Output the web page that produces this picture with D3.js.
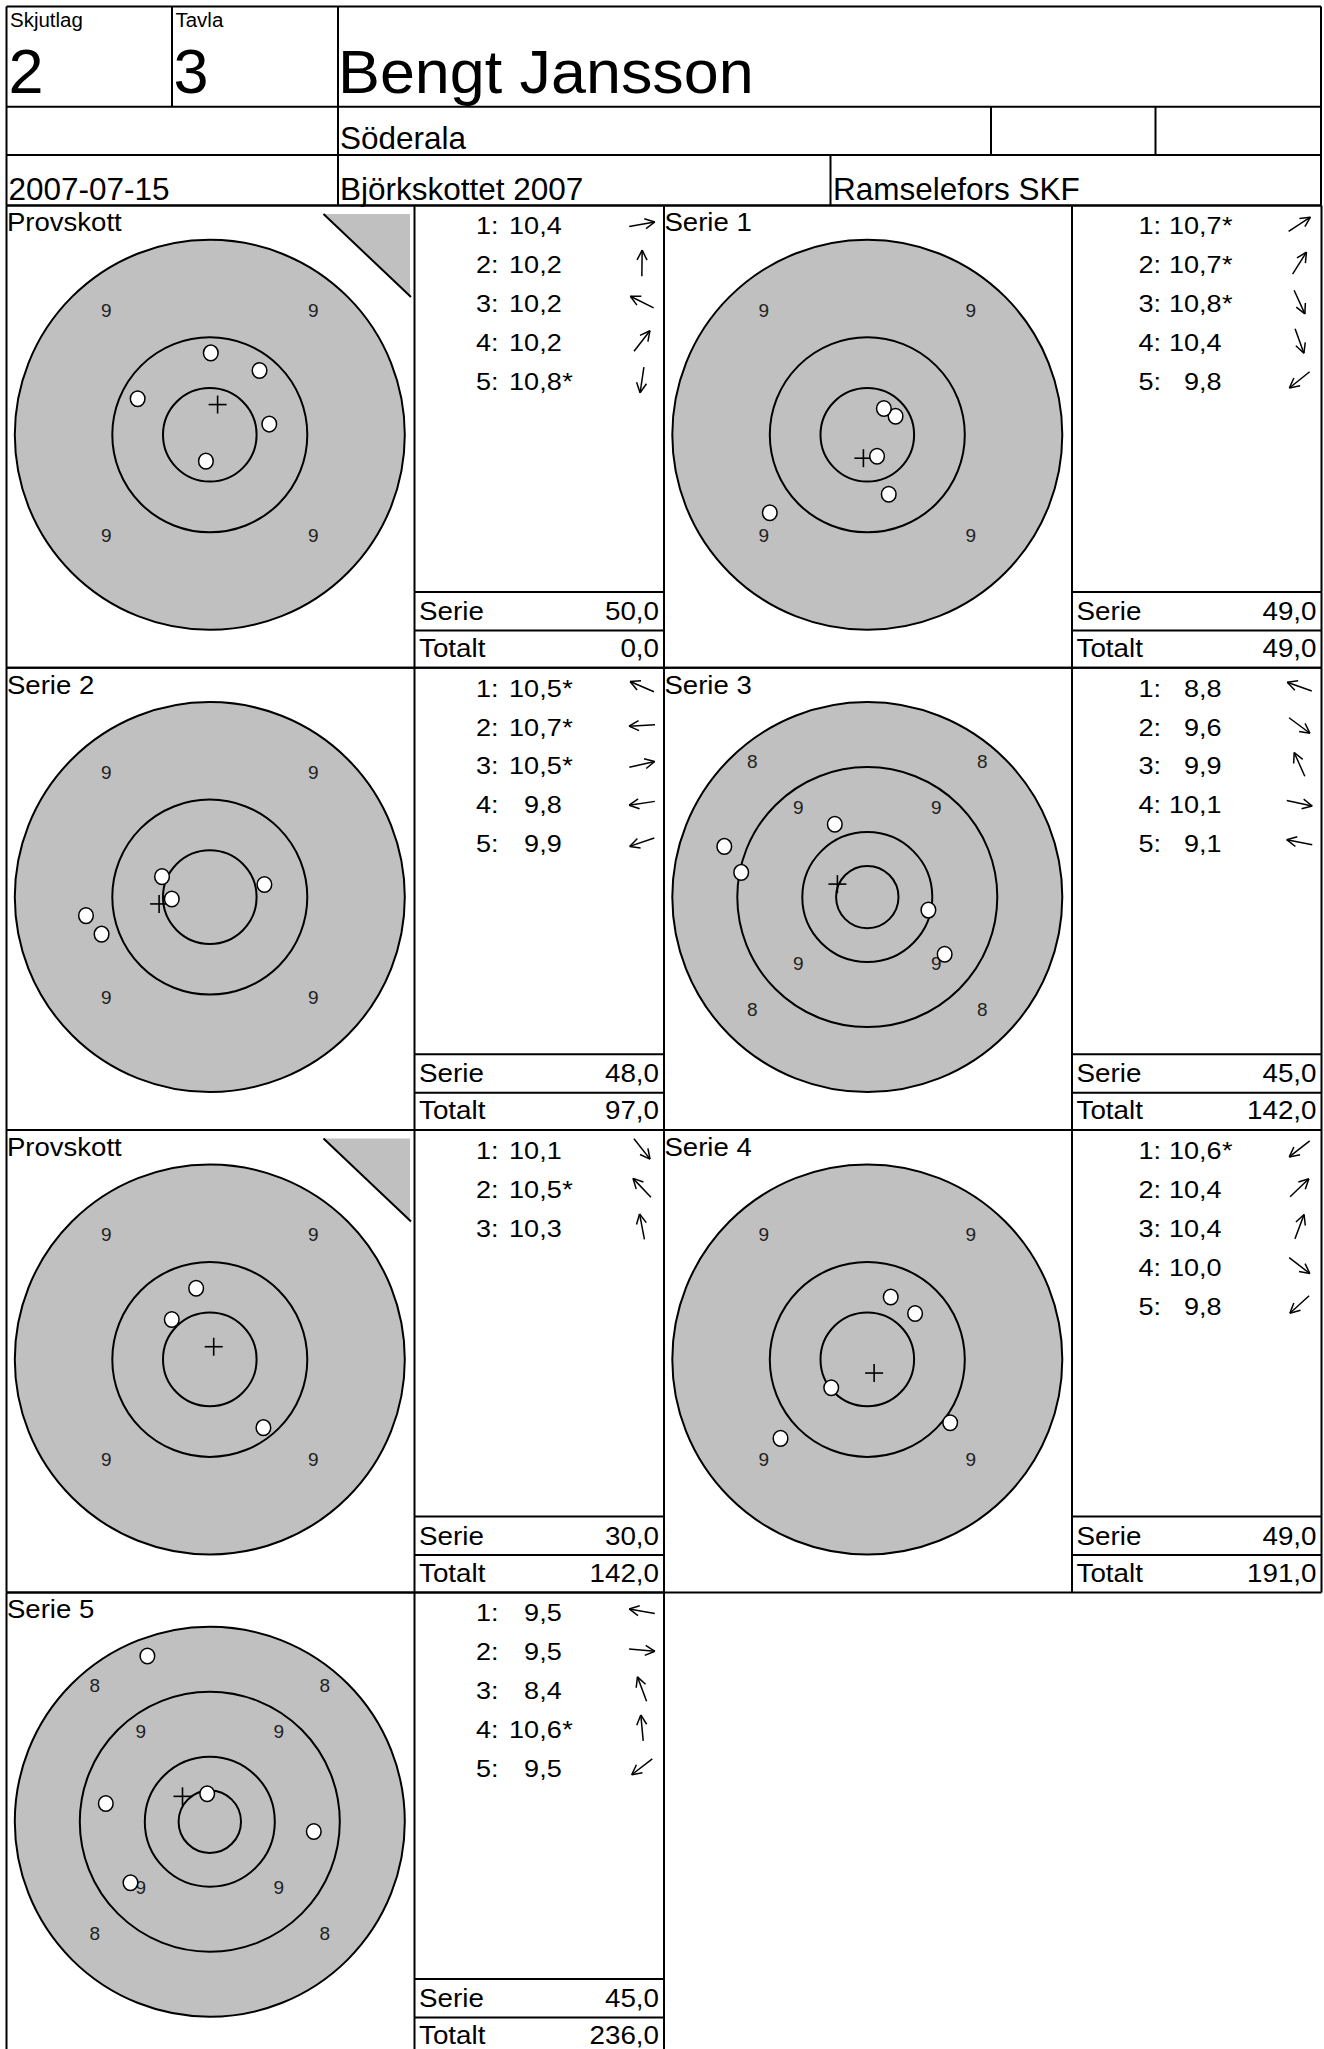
<!DOCTYPE html>
<html>
<head>
<meta charset="utf-8">
<script src="https://cdn.jsdelivr.net/npm/d3@7"></script>
<style>
body { margin:0; background:#fff; }
svg { display:block; }
text { font-family:"Liberation Sans", Arial, sans-serif; fill:#000; }
</style>
</head>
<body>
<div id="sheet"></div>
<script>
var width = 1324, height = 2049;

// header texts
var headLabels = ["Skjutlag", "Tavla"];
var headValues = ["2", "3"];
var shooter = "Bengt Jansson";
var club = "Söderala";
var date = "2007-07-15";
var competition = "Björkskottet 2007";
var organizer = "Ramselefors SKF";

// one entry per card (sighters + series)
var panelTitles = ["Provskott", "Serie 1", "Serie 2", "Serie 3", "Provskott", "Serie 4", "Serie 5"];
var isSighter = [true, false, false, false, true, false, false];
var outerRing = [20, 20, 20, 30, 20, 20, 30];   // ring units shown at the edge (10-ring radius = 10)
var ringLabels = [9, 8];                        // numbers in the 10-20 and 20-30 bands

var shotValues = [
	[10.4, 10.2, 10.2, 10.2, 10.8],
	[10.7, 10.7, 10.8, 10.4, 9.8],
	[10.5, 10.7, 10.5, 9.8, 9.9],
	[8.8, 9.6, 9.9, 10.1, 9.1],
	[10.1, 10.5, 10.3],
	[10.6, 10.4, 10.4, 10.0, 9.8],
	[9.5, 9.5, 8.4, 10.6, 9.5]
];
// shot positions in ring units, y up
var shotX = [
	[6.1, 0.1, -7.4, 5.1, -0.4],
	[2.9, 1.7, 1.0, 2.2, -10.0],
	[-4.9, -3.9, 5.6, -12.7, -11.1],
	[-22.0, 11.9, -5.0, 9.4, -19.4],
	[5.5, -3.9, -1.4],
	[-3.7, 4.9, 2.4, 8.5, -8.9],
	[-16.0, 16.0, -9.6, -0.4, -12.2]
];
var shotY = [
	[1.1, 8.4, 3.7, 6.6, -2.7],
	[1.9, 2.7, -2.2, -6.1, -8.0],
	[2.1, -0.2, 1.3, -1.9, -3.8],
	[7.8, -8.8, 11.2, -2.0, 3.8],
	[-7.0, 4.1, 7.3],
	[-2.9, 4.7, 6.4, -6.5, -8.1],
	[2.8, -1.5, 25.5, 4.3, -9.4]
];
var crossX = [0.8, -0.4, -5.2, -4.6, 0.4, 0.7, -4.2];
var crossY = [3.1, -2.4, -0.7, 2.0, 1.3, -1.4, 3.9];
var serieSum = [50, 49, 48, 45, 30, 49, 45];
var totalSum = [0, 49, 97, 142, 142, 191, 236];

// layout
var left = 6.5, right = 1321,
	top0 = 205.5, rowH = 462.3,
	targetW = 408, scoreW = 249.5, panelW = 657.5,
	R = 195;

var svg = d3.select("#sheet").append("svg")
	.attr("width", width)
	.attr("height", height);

function fmt(v) { return v.toFixed(1).replace(".", ","); }

// text helper, sx stretches the glyphs horizontally like the original print
function label(sel, x, y, s, size, sx, anchor) {
	return sel.append("text")
		.attr("transform", "translate(" + x + "," + y + ") scale(" + sx + ",1)")
		.attr("text-anchor", anchor || "start")
		.style("font-size", size + "px")
		.text(s);
}

function line(sel, x1, y1, x2, y2, w) {
	sel.append("line")
		.attr("x1", x1).attr("y1", y1).attr("x2", x2).attr("y2", y2)
		.attr("stroke", "#000").attr("stroke-width", w || 2);
}

var marks = svg.append("g");
var grid = svg.append("g");

//Header block
label(marks, 10, 27, headLabels[0], 19.5, 1.05);
label(marks, 175.5, 27, headLabels[1], 19.5, 1.05);
label(marks, 8.5, 93, headValues[0], 63, 1.0);
label(marks, 173.5, 93, headValues[1], 63, 1.0);
label(marks, 338, 93, shooter, 61, 1.03);
label(marks, 340, 148.5, club, 31.5, 1.0);
label(marks, 8.5, 199.5, date, 31.5, 1.0);
label(marks, 340, 199.5, competition, 31.5, 1.0);
label(marks, 833, 199.5, organizer, 31.5, 1.0);

line(grid, left, 6.5, right, 6.5);
line(grid, left, 106.7, right, 106.7);
line(grid, left, 155, right, 155);
line(grid, left, top0, right, top0);
line(grid, left, 6.5, left, top0);
line(grid, right, 6.5, right, top0);
line(grid, 172, 6.5, 172, 106.7);
line(grid, 338, 6.5, 338, top0);
line(grid, 991, 106.7, 991, 155);
line(grid, 1155.5, 106.7, 1155.5, 155);
line(grid, 830.5, 155, 830.5, top0);

// cards
panelTitles.forEach(function(title, p) {
	var col = p % 2, row = Math.floor(p / 2);
	var px = left + col * panelW, py = top0 + row * rowH;
	var sL = px + targetW;
	var cx = px + 203.3, cy = py + 229.3;
	var outer = outerRing[p];

	var x = d3.scaleLinear().domain([-outer, outer]).range([cx - R, cx + R]);
	var y = d3.scaleLinear().domain([-outer, outer]).range([cy + R, cy - R]);
	var k = R / outer;

	var g = marks.append("g");

	// target rings
	var rings = [30, 20, 10, 4.8].filter(function(r) { return r <= outer; });
	g.selectAll(".ring")
		.data(rings)
		.enter().append("circle")
		.attr("class", "ring")
		.attr("cx", x(0))
		.attr("cy", y(0))
		.attr("r", function(d) { return d * k; })
		.attr("fill", function(d, i) { return i == 0 ? "#c0c0c0" : "none"; })
		.attr("stroke", "#000")
		.attr("stroke-width", 2);

	// ring numbers on the diagonals
	var bands = [[10, 20, ringLabels[0]], [20, 30, ringLabels[1]]].filter(function(b) { return b[1] <= outer; });
	bands.forEach(function(b) {
		var d = (b[0] + b[1]) / 2 * Math.SQRT1_2;
		[[-1, 1], [1, 1], [-1, -1], [1, -1]].forEach(function(s) {
			var yy = s[1] > 0 ? y(d) - 14.5 : y(-d) + 3.5;
			label(g, x(s[0] * d), yy, String(b[2]), 19, 1.0, "middle").style("fill", "#222");
		});
	});

	// mean point of impact
	line(g, x(crossX[p]) - 9, y(crossY[p]), x(crossX[p]) + 9, y(crossY[p]), 1.6);
	line(g, x(crossX[p]), y(crossY[p]) - 9, x(crossX[p]), y(crossY[p]) + 9, 1.6);

	// shots
	var shots = shotValues[p].map(function(v, i) {
		return { v: v, x: shotX[p][i], y: shotY[p][i], i: i };
	});
	g.selectAll(".shot")
		.data(shots)
		.enter().append("ellipse")
		.attr("class", "shot")
		.attr("cx", function(d) { return x(d.x); })
		.attr("cy", function(d) { return y(d.y); })
		.attr("rx", 7.3)
		.attr("ry", 7.8)
		.attr("fill", "#fff")
		.attr("stroke", "#000")
		.attr("stroke-width", 1.5);

	// sighter corner mark
	if (isSighter[p]) {
		var t = [[px + 317, py + 8.5], [px + 403.5, py + 8.5], [px + 403.5, py + 91.5]];
		g.append("path")
			.attr("d", "M" + t[0] + "L" + t[1] + "L" + t[2] + "Z")
			.attr("fill", "#c0c0c0");
		line(g, t[0][0], t[0][1], t[2][0] + 1, t[2][1], 2);
	}

	label(g, px + 0.5, py + 25.7, title, 25.5, 1.08);

	// score list
	var offL = col ? 66.5 : 61.5, offN = col ? 149.5 : 147.2;
	shots.forEach(function(d) {
		var by = py + 28.8 + d.i * 38.9;
		label(g, sL + offL, by, (d.i + 1) + ":", 24.8, 1.09);
		label(g, sL + offN, by, fmt(d.v), 24.8, 1.09, "end");
		if (d.v >= 10.5) label(g, sL + offN + 0.5, by, "*", 24.8, 1.09);

		// direction arrow
		var a = Math.atan2(d.y, d.x);
		var ux = Math.cos(a), uy = -Math.sin(a);
		var ax = sL + 227.5, ay = by - 10;
		var tipX = ax + ux * 13, tipY = ay + uy * 13;
		line(g, ax - ux * 13, ay - uy * 13, tipX, tipY, 1.5);
		[0.47, -0.47].forEach(function(h) {
			var c = Math.cos(h), s = Math.sin(h);
			var hx = ux * c - uy * s, hy = ux * s + uy * c;
			line(g, tipX, tipY, tipX - hx * 11, tipY - hy * 11, 1.5);
		});
	});

	label(g, sL + 4.5, py + 414.5, "Serie", 25.6, 1.085);
	label(g, sL + 244.5, py + 414.5, fmt(serieSum[p]), 25.6, 1.085, "end");
	label(g, sL + 4.5, py + 451.5, "Totalt", 25.6, 1.085);
	label(g, sL + 244.5, py + 451.5, fmt(totalSum[p]), 25.6, 1.085, "end");

	// frames
	line(grid, px, py, px + panelW, py);
	line(grid, px, py + rowH, px + panelW, py + rowH);
	line(grid, px, py, px, py + rowH);
	line(grid, sL, py, sL, py + rowH);
	line(grid, px + panelW, py, px + panelW, py + rowH);
	line(grid, sL, py + 386.5, px + panelW, py + 386.5);
	line(grid, sL, py + 425, px + panelW, py + 425);
});
</script>
</body>
</html>
